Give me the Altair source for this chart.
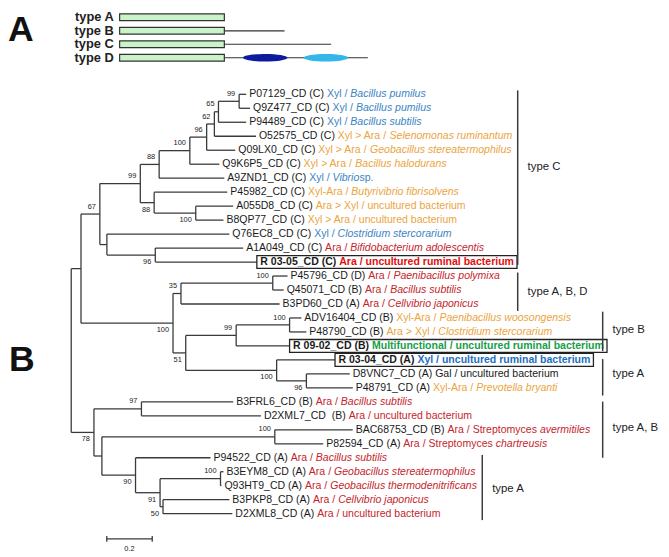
import altair as alt
import pandas as pd

# ------------------------------------------------------------------ layout constants
PX = 230.0          # pixels per unit of branch length (scale bar 0.2 = 46 px)
STEP = 14.15        # pixels per leaf row
W, H = 669, 557
OX, OY = 0, 0       # page position of plot origin (negative padding below)
ROOT_PX, LEAF1_PX = 72, 92
X_MIN = (OX - ROOT_PX) / PX
Y_MIN = 1 + (OY - LEAF1_PX) / STEP
xs = alt.Scale(domain=[X_MIN, X_MIN + W / PX], nice=False, zero=False)
ys = alt.Scale(domain=[Y_MIN, Y_MIN + H / STEP], nice=False, zero=False, reverse=True)
FONT = "Liberation Sans"
FS = 10.65

# ------------------------------------------------------------------ tree data
node_names = ["root", "n1", "n67", "n99a", "n88a", "n100a", "n96a", "n62", "n65", "n99t",
              "n88b", "n100b", "nX", "n96b", "n100c", "n35", "n100d", "n51", "n99c", "n100e",
              "n100f", "n96c", "n78", "n97", "nY", "n100g", "n90", "n91", "n100h", "n50"]
node_parent = [None, "root", "n1", "n67", "n99a", "n88a", "n100a", "n96a", "n62", "n65",
               "n99a", "n88b", "n67", "nX", "n1", "n100c", "n35", "n100c", "n51", "n99c",
               "n51", "n100f", "root", "n78", "n78", "nY", "nY", "n90", "n91", "n91"]
node_x = [0.000, 0.043, 0.126, 0.304, 0.387, 0.522, 0.596, 0.630, 0.648, 0.739,
          0.365, 0.548, 0.157, 0.370, 0.448, 0.483, 0.887, 0.504, 0.726, 0.961,
          0.904, 1.035, 0.100, 0.309, 0.135, 0.896, 0.283, 0.391, 0.657, 0.404]
node_boot = [None, None, 67, 99, 88, 100, 96, 62, 65, 99,
             88, 100, None, 96, 100, 35, 100, 51, 99, 100,
             100, 96, 78, 97, None, 100, 90, 91, 100, 50]
node_boot_pos = ["", "", "a", "a", "a", "a", "a", "a", "a", "a",
                 "b", "b", "", "b", "b", "a", "a", "b", "a", "a",
                 "b", "b", "b", "a", "", "a", "b", "b", "a", "b"]

leaf_ids = ["P07129_CD (C)", "Q9Z477_CD (C)", "P94489_CD (C)", "O52575_CD (C)", "Q09LX0_CD (C)",
            "Q9K6P5_CD (C)", "A9ZND1_CD (C)", "P45982_CD (C)", "A055D8_CD (C)", "B8QP77_CD (C)",
            "Q76EC8_CD (C)", "A1A049_CD (C)", "R 03-05_CD (C)", "P45796_CD (D)", "Q45071_CD (B)",
            "B3PD60_CD (A)", "ADV16404_CD (B)", "P48790_CD (B)", "R 09-02_CD (B)", "R 03-04_CD (A)",
            "D8VNC7_CD (A)", "P48791_CD (A)", "B3FRL6_CD (B)", "D2XML7_CD\u00a0 (B)", "BAC68753_CD (B)",
            "P82594_CD (A)", "P94522_CD (A)", "B3EYM8_CD (A)", "Q93HT9_CD (A)", "B3PKP8_CD (A)",
            "D2XML8_CD (A)"]
leaf_annot = ["Xyl / *Bacillus pumilus*", "Xyl / *Bacillus pumilus*", "Xyl / *Bacillus subtilis*",
              "Xyl > Ara / *Selenomonas ruminantum*", "Xyl > Ara / *Geobacillus stereatermophilus*",
              "Xyl > Ara / *Bacillus halodurans*", "Xyl / *Vibrio* sp.",
              "Xyl-Ara / *Butyrivibrio fibrisolvens*", "Ara > Xyl / uncultured bacterium",
              "Xyl > Ara / uncultured bacterium", "Xyl / *Clostridium stercorarium*",
              "Ara / *Bifidobacterium adolescentis*", "Ara / uncultured ruminal bacterium",
              "Ara / *Paenibacillus polymixa*", "Ara / *Bacillus subtilis*", "Ara / *Cellvibrio japonicus*",
              "Xyl-Ara / *Paenibacillus woosongensis*", "Ara > Xyl / *Clostridium stercorarium*",
              "Multifunctional / uncultured ruminal bacterium", "Xyl / uncultured ruminal bacterium",
              "Gal / uncultured bacterium", "Xyl-Ara / *Prevotella bryanti*", "Ara / *Bacillus subtilis*",
              "Ara / uncultured bacterium", "Ara / Streptomyces *avermitiles*",
              "Ara / Streptomyces *chartreusis*", "Ara / *Bacillus subtilis*",
              "Ara / *Geobacillus stereatermophilus*", "Ara / *Geobacillus thermodenitrificans*",
              "Ara / *Cellvibrio japonicus*", "Ara / uncultured bacterium"]
leaf_group = ["Xyl", "Xyl", "Xyl", "Mix", "Mix", "Mix", "Xyl", "Mix", "Mix", "Mix", "Xyl", "Ara",
              "AraB", "Ara", "Ara", "Ara", "Mix", "Mix", "Multi", "XylB", "Gal", "Mix", "Ara", "Ara",
              "Ara", "Ara", "Ara", "Ara", "Ara", "Ara", "Ara"]
leaf_bold = [False] * 12 + [True] + [False] * 5 + [True, True] + [False] * 11
leaf_parent = ["n99t", "n99t", "n65", "n62", "n96a", "n100a", "n88a", "n88b", "n100b", "n100b",
               "nX", "n96b", "n96b", "n100d", "n100d", "n35", "n100e", "n100e", "n99c", "n100f",
               "n96c", "n96c", "n97", "n97", "n100g", "n100g", "n90", "n100h", "n100h", "n50", "n50"]
leaf_tip = [0.770, 0.787, 0.770, 0.813, 0.722, 0.652, 0.674, 0.687, 0.713, 0.670,
            0.696, 0.757, 0.817, 0.952, 0.935, 0.917, 1.013, 1.035, 0.961, 1.161,
            1.226, 1.239, 0.713, 0.835, 1.239, 1.109, 0.613, 0.670, 0.661, 0.696, 0.709]

group_colors = {"Xyl": "#3a84c4", "Mix": "#eba43e", "Ara": "#c5252c", "AraB": "#e30d0d",
                "Multi": "#14a04a", "XylB": "#1c6fc2", "Gal": "#1a1a1a"}

clade_names = ["type C", "type A, B, D", "type B", "type A", "type A, B", "type A"]
clade_x = [1.965, 1.965, 2.339, 2.339, 2.339, 1.809]
clade_top = [0.72, 13.75, 16.55, 19.94, 22.98, 26.80]
clade_bottom = [13.20, 16.50, 19.37, 22.55, 27.00, 31.46]
clade_label_y = [6.23, 15.13, 17.89, 21.00, 24.89, 29.27]

scale_bar_start, scale_bar_len, scale_bar_row = 0.1565, 0.2, 32.80

# panel A: domain architectures (x in catalytic-domain lengths)
pa_types = ["type A", "type B", "type C", "type D"]
pa_rows = [-4.512, -3.544, -2.583, -1.615]
pa_tail_end = [1.0, 1.575, 2.02, 2.37]
pa_ell_type = ["type D", "type D"]
pa_ell_center = [1.39, 1.97]
pa_ell_color = ["#0c1c9c", "#35b6e8"]
PA_X0, PA_U = (121 - ROOT_PX) / PX, 106 / PX

panel_letters = ["A", "B"]
panel_letter_x = [-0.2217, -0.2174]
panel_letter_row = [-2.80, 20.79]

# ------------------------------------------------------------------ text metrics
REG = {' ': 278, '\u00a0': 278, '(': 333, ')': 333, '-': 333, '.': 278, '/': 278, '_': 556, '>': 584, ',': 278,
       'A': 667, 'B': 667, 'C': 722, 'D': 722, 'E': 667, 'F': 611, 'G': 778, 'H': 722, 'I': 278, 'J': 500,
       'K': 667, 'L': 556, 'M': 833, 'N': 722, 'O': 778, 'P': 667, 'Q': 778, 'R': 722, 'S': 667, 'T': 611,
       'U': 722, 'V': 667, 'W': 944, 'X': 667, 'Y': 667, 'Z': 611,
       'a': 556, 'b': 556, 'c': 500, 'd': 556, 'e': 556, 'f': 278, 'g': 556, 'h': 556, 'i': 222, 'j': 222,
       'k': 500, 'l': 222, 'm': 833, 'n': 556, 'o': 556, 'p': 556, 'q': 556, 'r': 333, 's': 500, 't': 278,
       'u': 556, 'v': 500, 'w': 722, 'x': 500, 'y': 500, 'z': 500}
BOLD = dict(REG)
BOLD.update({'A': 722, 'B': 722, 'R': 722, 'X': 667, 'M': 833,
             'a': 556, 'b': 611, 'c': 556, 'd': 611, 'e': 556, 'f': 333, 'g': 611, 'h': 611, 'i': 278,
             'j': 278, 'k': 556, 'l': 278, 'm': 889, 'n': 611, 'o': 611, 'p': 611, 'q': 611, 'r': 389,
             's': 556, 't': 333, 'u': 611, 'v': 556, 'w': 778, 'x': 556, 'y': 556, 'z': 500})
for d in "0123456789":
    REG[d] = 556
    BOLD[d] = 556


def text_w(s, bold=False, size=FS):
    t = BOLD if bold else REG
    return sum(t.get(c, 556) for c in s) * size / 1000.0


# ------------------------------------------------------------------ tree layout
children = {n: [] for n in node_names}
leaf_y = {}
for i, p in enumerate(leaf_parent):
    children[p].append(("leaf", i))
    leaf_y[i] = i + 1
for n, p in zip(node_names, node_parent):
    if p is not None:
        children[p].append(("node", n))
nx = dict(zip(node_names, node_x))
ny = {}


def get_y(kind, key):
    if kind == "leaf":
        return leaf_y[key]
    if key not in ny:
        vals = [get_y(k, c) for k, c in children[key]]
        ny[key] = (min(vals) + max(vals)) / 2
    return ny[key]


get_y("node", "root")

seg = []
for n, p in zip(node_names, node_parent):
    vals = [get_y(k, c) for k, c in children[n]]
    seg.append(dict(x=nx[n], x2=nx[n], y=min(vals), y2=max(vals)))
    if p is not None:
        seg.append(dict(x=nx[p], x2=nx[n], y=ny[n], y2=ny[n]))
for i, p in enumerate(leaf_parent):
    seg.append(dict(x=nx[p], x2=leaf_tip[i], y=leaf_y[i], y2=leaf_y[i]))
seg_df = pd.DataFrame(seg)

boot_rows = []
for n, b, pos in zip(node_names, node_boot, node_boot_pos):
    if b is None:
        continue
    boot_rows.append(dict(x=nx[n], y=ny[n] + (-0.53 if pos == "a" else 0.5), text=str(b)))
boot_df = pd.DataFrame(boot_rows)

# leaf labels split into styled runs
txt = {"normal": [], "italic": [], "bold": []}
boxes = []
for i in range(len(leaf_ids)):
    bold = leaf_bold[i]
    col = group_colors[leaf_group[i]]
    off = 3.5 if bold else 3.0
    runs = [(leaf_ids[i] + " ", "#1a1a1a", False)]
    for k, part in enumerate(leaf_annot[i].split("*")):
        if part:
            runs.append((part, col, k % 2 == 1))
    for t, c, it in runs:
        style = "bold" if bold else ("italic" if it else "normal")
        txt[style].append(dict(x=leaf_tip[i] + off / PX, y=leaf_y[i], text=t, color=c))
        off += text_w(t, bold)
    if bold:
        boxes.append(dict(x=leaf_tip[i], x2=leaf_tip[i] + (off + 3) / PX,
                          y=leaf_y[i] - 0.46, y2=leaf_y[i] + 0.46))
box_df = pd.DataFrame(boxes)

clade_df = pd.DataFrame(dict(x=clade_x, y=clade_top, y2=clade_bottom, ly=clade_label_y, text=clade_names))

sb_df = pd.DataFrame(dict(x=[scale_bar_start], x2=[scale_bar_start + scale_bar_len], y=[scale_bar_row],
                          xm=[scale_bar_start + scale_bar_len / 2], text=[str(scale_bar_len)]))
sb_ticks = pd.DataFrame(dict(x=[scale_bar_start, scale_bar_start + scale_bar_len],
                             y=[scale_bar_row - 0.2] * 2, y2=[scale_bar_row + 0.2] * 2))

pa_df = pd.DataFrame(dict(type=pa_types, y=pa_rows,
                          x0=[PA_X0] * 4, x1=[PA_X0 + PA_U] * 4,
                          xt=[PA_X0 + PA_U * e for e in pa_tail_end]))
pa_df["yb0"] = pa_df["y"] - 0.24
pa_df["yb1"] = pa_df["y"] + 0.24
ell_df = pd.DataFrame(dict(type=pa_ell_type, color=pa_ell_color,
                           x=[PA_X0 + PA_U * c for c in pa_ell_center]))
ell_df["y"] = ell_df["type"].map(dict(zip(pa_types, pa_rows)))
letters_df = pd.DataFrame(dict(text=panel_letters, x=panel_letter_x, y=panel_letter_row))


# ------------------------------------------------------------------ chart
def X(f):
    return alt.X(f, type="quantitative", scale=xs, axis=None)


def Y(f):
    return alt.Y(f, type="quantitative", scale=ys, axis=None)


LINE = "#3a3a3a"
layers = []
layers.append(alt.Chart(seg_df).mark_rule(stroke=LINE, strokeWidth=1.3).encode(
    x=X("x"), x2="x2", y=Y("y"), y2="y2"))
layers.append(alt.Chart(box_df).mark_rect(fillOpacity=0, stroke="#222222", strokeWidth=1.3).encode(
    x=X("x"), x2="x2", y=Y("y"), y2="y2"))
for style, kw in [("normal", {}), ("italic", {"fontStyle": "italic"}), ("bold", {"fontWeight": "bold"})]:
    layers.append(alt.Chart(pd.DataFrame(txt[style])).mark_text(
        align="left", baseline="middle", font=FONT, fontSize=FS, **kw).encode(
        x=X("x"), y=Y("y"), text="text:N", color=alt.Color("color:N", scale=None)))
layers.append(alt.Chart(boot_df).mark_text(
    align="right", baseline="middle", dx=-4, font=FONT, fontSize=7.5, color="#222222").encode(
    x=X("x"), y=Y("y"), text="text:N"))
layers.append(alt.Chart(clade_df).mark_rule(stroke=LINE, strokeWidth=1.5).encode(
    x=X("x"), y=Y("y"), y2="y2"))
layers.append(alt.Chart(clade_df).mark_text(
    align="left", baseline="middle", dx=10, font=FONT, fontSize=11.5, color="#222222").encode(
    x=X("x"), y=Y("ly"), text="text:N"))
layers.append(alt.Chart(sb_df).mark_rule(stroke=LINE, strokeWidth=1.3).encode(
    x=X("x"), x2="x2", y=Y("y")))
layers.append(alt.Chart(sb_ticks).mark_rule(stroke=LINE, strokeWidth=1.3).encode(
    x=X("x"), y=Y("y"), y2="y2"))
layers.append(alt.Chart(sb_df).mark_text(
    align="center", baseline="top", dy=6, font=FONT, fontSize=7.5, color="#222222").encode(
    x=X("xm"), y=Y("y"), text="text:N"))
# panel A
layers.append(alt.Chart(pa_df).mark_rule(stroke="#333333", strokeWidth=1.2).encode(
    x=X("x1"), x2="xt", y=Y("y")))
layers.append(alt.Chart(pa_df).mark_rect(fill="#cbf3c9", stroke="#333333", strokeWidth=1.2).encode(
    x=X("x0"), x2="x1", y=Y("yb0"), y2="yb1"))
ELL = "M-1,0A1,0.17,0,1,0,1,0A1,0.17,0,1,0,-1,0Z"
layers.append(alt.Chart(ell_df).mark_point(shape=ELL, size=2025, filled=True, opacity=1).encode(
    x=X("x"), y=Y("y"), color=alt.Color("color:N", scale=None)))
layers.append(alt.Chart(pa_df).mark_text(
    align="right", baseline="middle", dx=-6, font=FONT, fontSize=13, fontWeight="bold",
    color="#222222").encode(x=X("x0"), y=Y("y"), text="type:N"))
layers.append(alt.Chart(letters_df).mark_text(
    align="center", baseline="alphabetic", font=FONT, fontSize=36, fontWeight="bold",
    color="#111111").encode(x=X("x"), y=Y("y"), text="text:N"))

chart = alt.layer(*layers).properties(
    width=W, height=H, autosize="none",
    padding={"left": -8, "top": -8, "right": 0, "bottom": 0},
).configure_view(stroke=None)

chart.save("out.html", embed_options={"renderer": "svg", "actions": False})
